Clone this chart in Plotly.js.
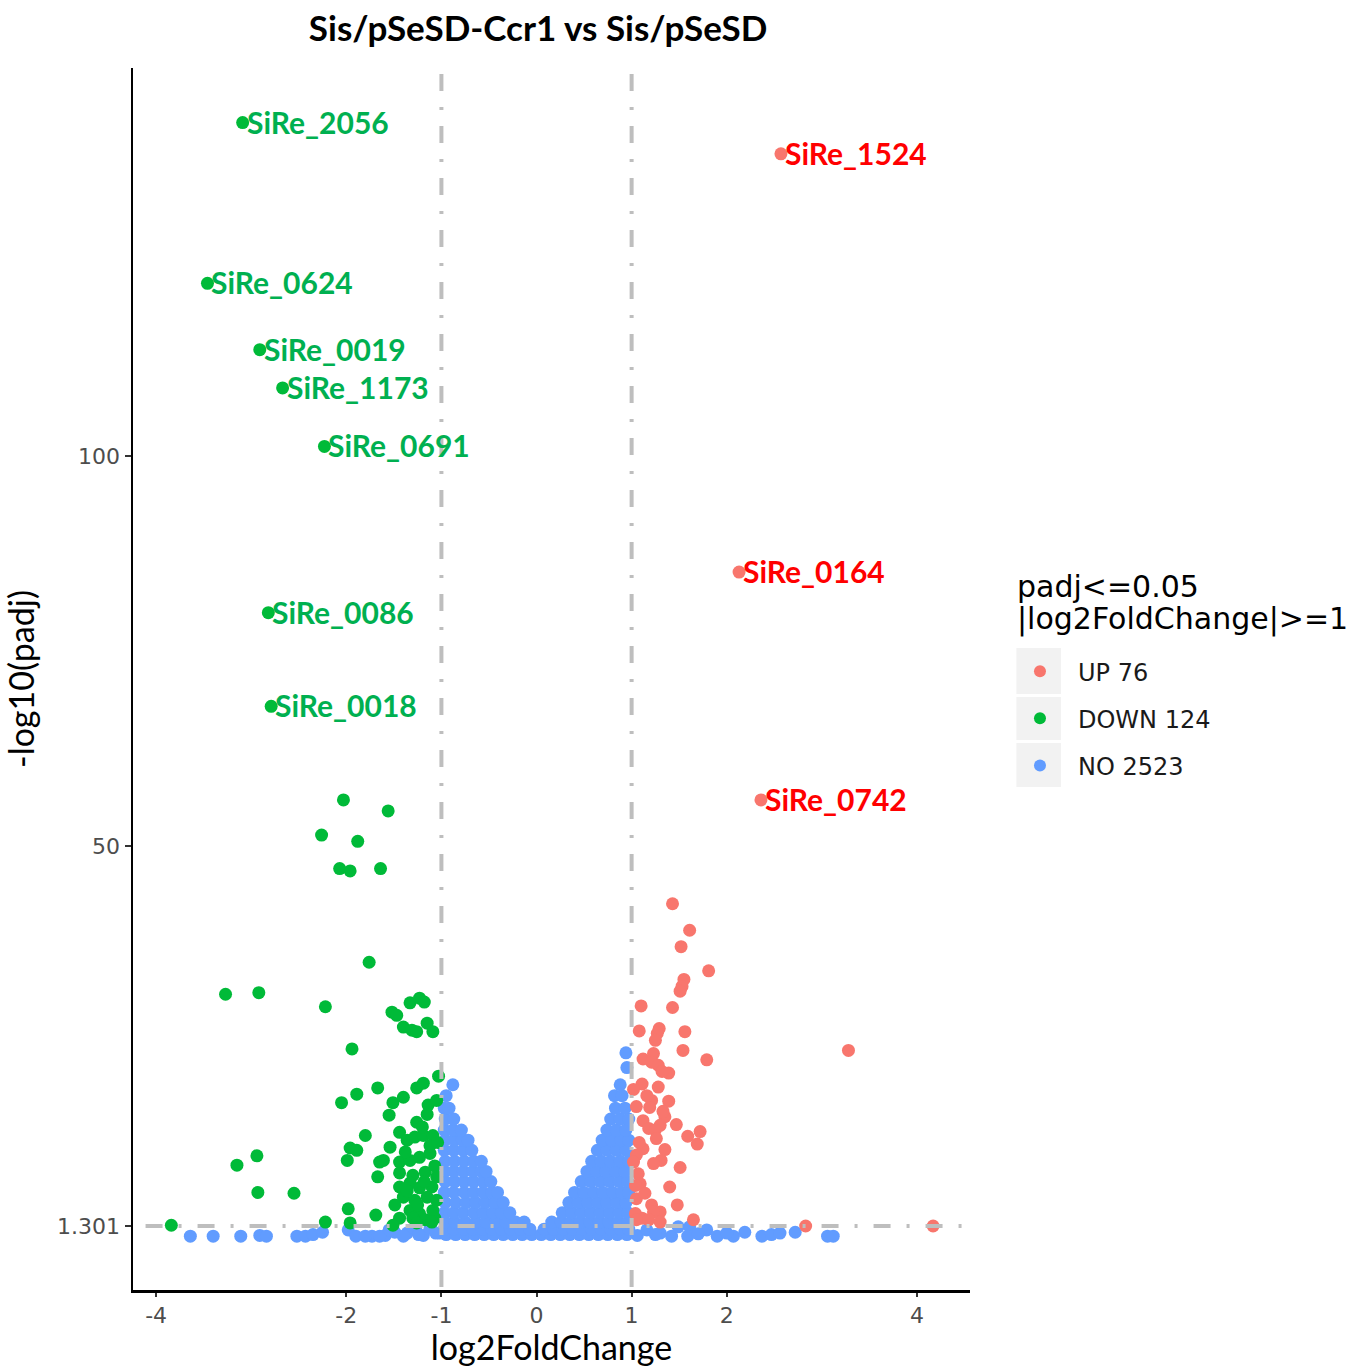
<!DOCTYPE html>
<html>
<head>
<meta charset="utf-8">
<script src="https://cdn.plot.ly/plotly-3.0.1.min.js"></script>
<style>html,body{margin:0;padding:0;background:#fff;}#chart{width:1359px;height:1367px;}</style>
</head>
<body>
<div id="chart"></div>
<script>
// ---------------- data ----------------
const chartTitle = 'Sis/pSeSD-Ccr1 vs Sis/pSeSD';
const xTickVals = [-4, -2, -1, 0, 1, 2, 4];
const yTickVals = [1.301, 50, 100];
const yTickText = ['1.301', '50', '100'];
const legendTitleLines = ['padj<=0.05', '|log2FoldChange|>=1'];
const legendNames = ['UP 76', 'DOWN 124', 'NO 2523'];

// labelled genes
const labelNames = ['SiRe_2056','SiRe_0624','SiRe_0019','SiRe_1173','SiRe_0691','SiRe_0086','SiRe_0018','SiRe_1524','SiRe_0164','SiRe_0742'];
const labelX = [-3.09,-3.46,-2.91,-2.67,-2.23,-2.82,-2.79,2.57,2.13,2.36];
const labelY = [142.7,122.1,113.6,108.7,101.2,79.9,67.9,138.7,85.1,55.9];
const labelGroup = ['DOWN','DOWN','DOWN','DOWN','DOWN','DOWN','DOWN','UP','UP','UP'];

// DOWN (green) points
const downX = [-3.84,-3.27,-2.92,-3.15,-2.94,-2.93,-2.55,-2.03,-1.56,-2.26,
  -1.88,-2.07,-1.96,-1.64,-1.76,-2.22,-1.52,-1.47,-1.33,-1.23,
  -1.18,-1.40,-1.31,-1.26,-1.15,-1.09,-1.94,-2.05,-1.89,-1.67,
  -1.51,-1.40,-1.26,-1.19,-1.14,-1.05,-1.55,-1.26,-1.80,-1.44,
  -1.36,-1.28,-1.19,-1.09,-1.96,-1.89,-1.99,-1.54,-1.61,-1.65,
  -1.44,-1.33,-1.23,-1.12,-1.44,-1.30,-1.17,-1.05,-1.67,-1.44,
  -1.33,-1.23,-1.10,-1.40,-1.28,-1.15,-1.05,-1.49,-1.33,-1.23,
  -1.09,-1.98,-1.69,-1.44,-1.30,-1.17,-1.07,-2.22,-1.96,-1.51,
  -1.26,-1.10,-1.20,-1.12,-1.38,-1.15,-1.07,-1.25,-1.36,-1.18,-1.04,-1.03];
const downY = [1.4,31.0,31.2,9.1,10.3,5.6,5.5,55.9,54.5,51.4,
  50.6,47.1,46.8,47.1,35.1,29.4,28.7,28.3,29.9,30.5,
  30.0,26.8,26.4,26.2,27.3,26.2,24.0,17.1,18.2,19.0,
  17.1,17.8,19.0,19.6,16.8,17.4,15.5,14.6,12.9,13.3,
  12.3,12.7,12.9,12.9,11.3,11.0,9.7,11.4,9.7,9.5,
  9.5,9.7,10.1,10.6,8.1,7.8,8.2,7.6,7.6,6.3,
  6.8,6.2,6.3,5.0,4.6,5.0,4.6,4.0,3.3,2.9,
  3.3,3.5,2.7,2.3,2.3,2.1,2.3,1.8,1.7,1.4,
  1.7,1.8,14.0,11.6,10.8,15.6,9.0,4.0,5.8,7.0,12.0,20.5];

// UP (red) points
const upX = [1.43,1.61,1.52,1.81,1.55,1.53,1.51,1.10,1.43,1.08,
  1.29,1.27,1.25,1.56,1.54,1.79,3.28,1.12,1.23,1.21,
  1.28,1.39,1.32,1.11,1.02,1.28,1.21,1.39,1.05,1.19,
  1.35,1.12,1.47,1.30,1.18,1.25,1.72,1.59,1.26,1.69,
  1.12,1.35,1.05,1.31,1.23,1.51,1.07,1.40,1.09,1.05,
  1.48,1.21,1.30,1.23,1.11,1.18,1.30,1.65,2.83,4.17,
  1.04,1.05,1.04,1.08,1.16,1.02,1.14,1.33];
const upY = [42.6,39.2,37.1,34.0,32.9,32.0,31.4,29.5,29.3,26.3,
  26.6,26.0,25.1,26.2,23.8,22.6,23.8,22.7,23.4,22.3,
  21.9,20.9,21.1,19.5,18.8,19.1,17.4,17.3,16.6,16.5,
  15.3,14.8,14.3,14.2,13.8,13.6,13.4,12.8,12.5,11.8,
  11.2,11.1,10.4,9.7,9.3,8.8,8.0,6.3,6.7,4.8,
  4.0,4.0,3.1,3.1,2.3,2.1,1.8,2.1,1.3,1.3,
  2.9,2.1,6.5,12.0,18.0,9.5,5.5,16.0];

// NO (blue) points: scattered low points
const noOuterX = [-3.64,-3.40,-3.11,-2.91,-2.84,-2.52,-2.43,-2.35,-2.25,-1.98,
  -1.90,-1.73,-1.59,-1.49,-1.36,-1.19,-1.02,-1.12,-1.27,1.06,
  1.16,1.30,1.42,1.49,1.61,1.59,1.79,1.90,2.07,2.19,
  2.37,2.47,2.56,2.72,3.06,3.12,1.25,1.70,2.00,
  -1.80,-1.65,-1.55,-1.40,-1.24,-1.06];
const noOuterY = [0.0,0.0,0.0,0.1,0.0,0.0,0.0,0.2,0.5,0.8,
  0.0,0.0,0.1,0.5,0.4,0.1,0.4,1.0,0.9,0.1,
  0.8,0.4,0.0,1.2,1.2,0.0,0.8,0.0,0.0,0.5,
  0.0,0.2,0.4,0.5,0.0,0.0,0.2,0.3,0.4,
  0.0,0.0,0.8,0.0,0.2,0.4];
// NO (blue) points: dense V-shaped core, listed row by row
const noRowY = [0.2, 0.9, 1.8, 3.0, 4.3, 5.6, 7.0, 8.3, 9.6, 11.0, 12.3, 13.6, 15.0, 16.4, 18.0, 19.4, 21.6, 23.5];
const noRowX = [
  [-0.95,-0.85,-0.75,-0.65,-0.55,-0.45,-0.35,-0.25,-0.15,-0.05,0.05,0.15,0.25,0.35,0.45,0.55,0.65,0.75,0.85,0.95],
  [-0.97,-0.87,-0.77,-0.67,-0.57,-0.47,-0.37,-0.27,-0.17,-0.07,0.08,0.18,0.28,0.38,0.48,0.58,0.68,0.78,0.88,0.97],
  [-0.96,-0.86,-0.75,-0.64,-0.53,-0.43,-0.32,-0.22,-0.13,0.16,0.26,0.36,0.46,0.56,0.66,0.76,0.86,0.96],
  [-0.97,-0.87,-0.77,-0.66,-0.56,-0.46,-0.37,-0.28,0.27,0.37,0.47,0.57,0.67,0.77,0.87,0.96],
  [-0.96,-0.85,-0.74,-0.64,-0.54,-0.44,-0.35,0.34,0.44,0.54,0.64,0.74,0.84,0.94],
  [-0.97,-0.87,-0.76,-0.66,-0.56,-0.47,-0.41,0.40,0.50,0.60,0.70,0.80,0.90,0.97],
  [-0.96,-0.86,-0.76,-0.66,-0.56,-0.48,0.47,0.57,0.67,0.77,0.87,0.96],
  [-0.97,-0.87,-0.77,-0.67,-0.58,-0.53,0.53,0.63,0.73,0.83,0.93],
  [-0.96,-0.86,-0.76,-0.66,-0.58,0.58,0.68,0.78,0.88,0.97],
  [-0.97,-0.87,-0.77,-0.68,0.64,0.74,0.84,0.94],
  [-0.96,-0.86,-0.78,-0.72,0.69,0.79,0.89,0.97],
  [-0.97,-0.88,-0.79,0.74,0.84,0.94],
  [-0.96,-0.87,0.78,0.88,0.97],
  [-0.97,-0.92,0.83,0.93],
  [-0.95,0.82,0.90],
  [-0.88,0.88],
  [0.95],
  [0.94]
];

// ---------------- build traces ----------------
const COL_UP = '#F8766D', COL_DOWN = '#00BA38', COL_NO = '#619CFF';
const noX = noOuterX.slice(), noY = noOuterY.slice();
noRowY.forEach((y, i) => noRowX[i].forEach(x => { noX.push(x); noY.push(y); }));

const dX = downX.slice(), dY = downY.slice(), uX = upX.slice(), uY = upY.slice();
labelNames.forEach((n, i) => {
  if (labelGroup[i] === 'DOWN') { dX.push(labelX[i]); dY.push(labelY[i]); }
  else { uX.push(labelX[i]); uY.push(labelY[i]); }
});

const mk = (c) => ({color: c, size: 13, line: {width: 0}});
const traces = [
  {type:'scatter', mode:'markers', name: legendNames[2], x: noX, y: noY, marker: mk(COL_NO), legendrank: 3, legendgroup:'no', hoverinfo:'x+y'},
  {type:'scatter', mode:'markers', name: legendNames[1], x: dX, y: dY, marker: mk(COL_DOWN), legendrank: 2, legendgroup:'down', hoverinfo:'x+y'},
  {type:'scatter', mode:'markers', name: legendNames[0], x: uX, y: uY, marker: mk(COL_UP), legendrank: 1, legendgroup:'up', hoverinfo:'x+y'}
];

const annotations = labelNames.map((n, i) => ({
  x: labelX[i], y: labelY[i], xref: 'x', yref: 'y', text: n, showarrow: false,
  xanchor: 'left', yanchor: 'middle', xshift: 2, yshift: 1,
  font: {family: 'Lato, sans-serif', size: 30, weight: 700, color: labelGroup[i] === 'DOWN' ? '#00B050' : '#FF0000'}
}));
// legend title (two lines, ggplot-like tight spacing)
const legTitleFont = {family: 'DejaVu Sans, sans-serif', size: 30, color: '#000'};
annotations.push({xref:'paper', yref:'paper', x: 1.0538, y: (1290-586)/1222, text: legendTitleLines[0], showarrow:false, xanchor:'left', yanchor:'middle', font: legTitleFont});
annotations.push({xref:'paper', yref:'paper', x: 1.0538, y: (1290-619)/1222, text: legendTitleLines[1], showarrow:false, xanchor:'left', yanchor:'middle', font: legTitleFont});

const dashStyle = '17px,16px,3px,16px';
const lineStyle = {color: '#BEBEBE', width: 4, dash: dashStyle};
const shapes = [
  {type:'line', xref:'x', yref:'paper', x0:-1, x1:-1, y0:0.995, y1:0, line: lineStyle, layer:'above'},
  {type:'line', xref:'x', yref:'paper', x0:1, x1:1, y0:0.995, y1:0, line: lineStyle, layer:'above'},
  {type:'line', xref:'paper', yref:'y', x0:0.015, x1:1, y0:1.301, y1:1.301, line: lineStyle, layer:'above'},
  // legend key backgrounds (grey95, as in ggplot legend keys)
  {type:'rect', xref:'paper', yref:'paper', x0:1.0554, x1:1.1088, y0:0.5254, y1:0.4877, fillcolor:'#F2F2F2', line:{width:0}, layer:'below'},
  {type:'rect', xref:'paper', yref:'paper', x0:1.0554, x1:1.1088, y0:0.4853, y1:0.4501, fillcolor:'#F2F2F2', line:{width:0}, layer:'below'},
  {type:'rect', xref:'paper', yref:'paper', x0:1.0554, x1:1.1088, y0:0.4476, y1:0.4116, fillcolor:'#F2F2F2', line:{width:0}, layer:'below'}
];

const tickFont = {family: 'DejaVu Sans, sans-serif', size: 22, color: '#4D4D4D'};
const layout = {
  width: 1359, height: 1367,
  margin: {l: 133, r: 389, t: 68, b: 77, pad: 0},
  paper_bgcolor: '#FFFFFF', plot_bgcolor: '#FFFFFF',
  title: {text: chartTitle, font: {family: 'Lato, sans-serif', size: 35, weight: 700, color: '#000'},
          x: 0.484, xref: 'paper', xanchor: 'center', y: 0.979, yref: 'container', yanchor: 'middle'},
  xaxis: {range: [-4.243, 4.558], tickvals: xTickVals, ticktext: xTickVals.map(String),
          showgrid: false, zeroline: false, showline: true, linecolor: '#000', linewidth: 2.5,
          ticks: 'outside', ticklen: 4, tickwidth: 2, tickcolor: '#333', tickfont: tickFont,
          title: {text: 'log2FoldChange', font: {family: 'Lato, sans-serif', size: 34, color: '#000'}, standoff: 13}},
  yaxis: {range: [-6.9, 149.7], tickvals: yTickVals, ticktext: yTickText,
          showgrid: false, zeroline: false, showline: true, linecolor: '#000', linewidth: 2.5,
          ticks: 'outside', ticklen: 6, tickwidth: 2, tickcolor: '#333', tickfont: tickFont,
          title: {text: '-log10(padj)', font: {family: 'Lato, sans-serif', size: 34, color: '#000'}, standoff: 12}},
  showlegend: true,
  legend: {x: 1.0382, xanchor: 'left', y: 0.5245, yanchor: 'top', bgcolor: 'rgba(0,0,0,0)',
           font: {family: 'DejaVu Sans, sans-serif', size: 24, color: '#1A1A1A'},
           itemwidth: 66, tracegroupgap: 13, traceorder: 'grouped', itemsizing: 'constant'},
  annotations: annotations,
  shapes: shapes
};

Plotly.newPlot('chart', traces, layout, {displayModeBar: false, staticPlot: true});
</script>
</body>
</html>
